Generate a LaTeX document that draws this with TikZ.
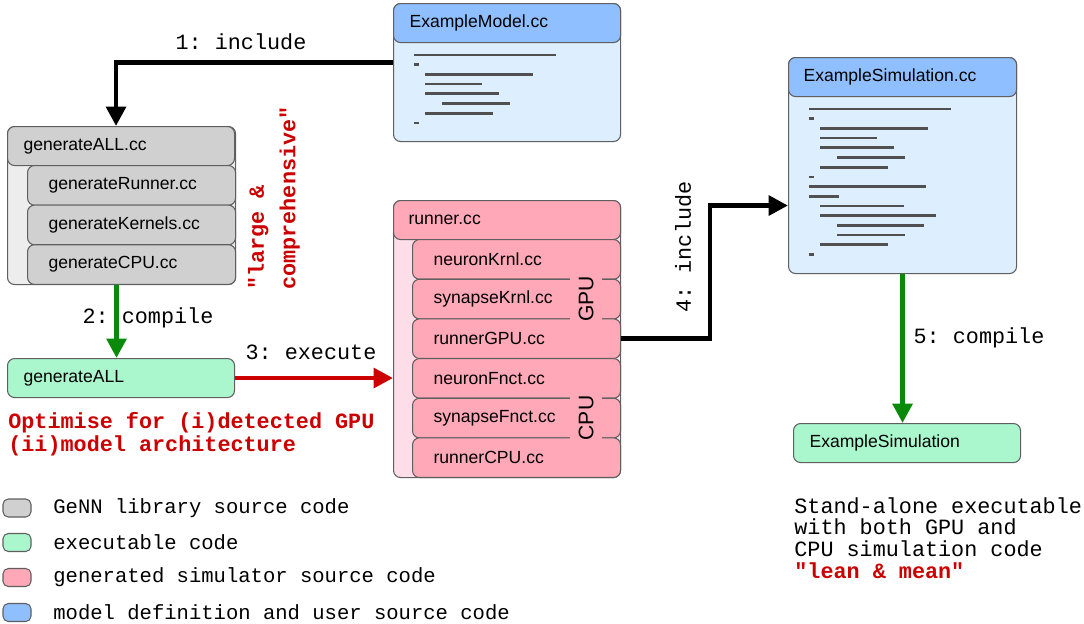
\documentclass[tikz,border=0pt]{standalone}
\usepackage{fontspec}
\setmainfont{Liberation Sans}
\setmonofont{Liberation Mono}
\usetikzlibrary{arrows.meta}
\newlength\pxu
\setlength\pxu{0.02cm}
\definecolor{edge}{HTML}{5F5F5F}
\definecolor{codegray}{HTML}{505050}
\definecolor{blhead}{HTML}{8FBFFF}
\definecolor{blbody}{HTML}{DDEEFF}
\definecolor{grbox}{HTML}{D0D0D0}
\definecolor{grstrip}{HTML}{EDEDED}
\definecolor{pinkbox}{HTML}{FFA8B8}
\definecolor{pinkstrip}{HTML}{FDDDE8}
\definecolor{mint}{HTML}{AAF7CE}
\definecolor{darkred}{HTML}{CC0000}
\definecolor{darkgreen}{HTML}{0A8A0A}
\tikzset{
  body/.style={rectangle, draw=edge, line width=0.6pt, rounded corners=4pt,
    anchor=north west, inner sep=0pt},
  head/.style={body, align=left, text width=195\pxu, inner xsep=16\pxu,
    minimum height=39\pxu, font=\fontsize{10}{12}\selectfont},
  sub/.style={body, align=left, text width=166\pxu, inner xsep=21\pxu,
    minimum height=39.67\pxu, font=\fontsize{10}{12}\selectfont},
  side/.style={rotate=90, fill=pinkbox, inner xsep=1pt, inner ysep=5pt,
    font=\fontsize{12}{14}\selectfont},
  key/.style={rectangle, draw=edge, line width=0.6pt, rounded corners=3pt,
    minimum width=28\pxu, minimum height=18\pxu, inner sep=0pt},
  legtxt/.style={anchor=west, inner sep=0pt, font=\fontsize{11.7}{13}\selectfont\ttfamily},
  lbl/.style={inner sep=1pt, font=\fontsize{12.4}{12.4}\selectfont\ttfamily},
  redtxt/.style={lbl, text=darkred, font=\fontsize{12.4}{13}\selectfont\ttfamily\bfseries},
  codeln/.style={draw=codegray, line width=1.5pt},
  blkarr/.style={draw=black, line width=2.7pt, -{Triangle[length=11pt,width=11pt]}},
  grnarr/.style={blkarr, draw=darkgreen, fill=darkgreen},
  redarr/.style={blkarr, draw=darkred, fill=darkred}
}
\def\modelcode{21/142, 21/5, 32/108, 32/57, 32/74, 49/68, 32/68, 21/5}
\def\simcode{21/142, 21/5, 32/108, 32/57, 32/74, 49/68, 32/68, 21/5,
  21/117, 21/30, 32/84, 32/116, 49/87, 49/68, 32/68, 21/5}

\begin{document}
\begin{tikzpicture}[x=0.02cm, y=-0.02cm]
    \useasboundingbox (0,0) rectangle (1084,623);

    % model definition
    \node[body, fill=blbody, minimum width=227\pxu, minimum height=138\pxu] (mbody) at (393,3) {};
    \node[head, fill=blhead] (mhead) at (393,3) {ExampleModel.cc};
    \begin{scope}[shift={(mbody.north west)}]
      \foreach \o/\l [count=\i] in \modelcode
        \draw[codeln] (\o, 42.3+9.7*\i) -- ++(\l, 0);
    \end{scope}

    % GeNN library
    \node[body, fill=grstrip, minimum width=228\pxu, minimum height=158\pxu] (gall) at (7,126) {};
    \node[head, fill=grbox] (ghead) at (7,126) {generateALL.cc};
    \node[sub, fill=grbox] (grun) at (27,165) {generateRunner.cc};
    \node[sub, fill=grbox] (gker) at (27,204.6) {generateKernels.cc};
    \node[sub, fill=grbox] (gcpu) at (27,244.2) {generateCPU.cc};
    \node[head, fill=mint] (gexe) at (7,358) {generateALL};

    % generated runner
    \node[body, fill=pinkstrip, minimum width=227\pxu, minimum height=277\pxu] (rall) at (393,200) {};
    \node[head, fill=pinkbox, inner xsep=15\pxu, text width=197\pxu] (rhead) at (393,200) {runner.cc};
    \node[sub, fill=pinkbox] (rnk) at (412,239) {neuronKrnl.cc};
    \node[sub, fill=pinkbox] (rsk) at (412,278.7) {synapseKrnl.cc};
    \node[sub, fill=pinkbox] (rgpu) at (412,318.3) {runnerGPU.cc};
    \node[sub, fill=pinkbox] (rnf) at (412,358) {neuronFnct.cc};
    \node[sub, fill=pinkbox] (rsf) at (412,397.7) {synapseFnct.cc};
    \node[sub, fill=pinkbox] (rcpu) at (412,437.3) {runnerCPU.cc};
    \node[side] (lgpu) at (586,299) {GPU};
    \node[side] (lcpu) at (586,418) {CPU};

    % user simulation
    \node[body, fill=blbody, minimum width=228\pxu, minimum height=216\pxu] (sbody) at (788,57) {};
    \node[head, fill=blhead, inner xsep=15\pxu, text width=198\pxu] (shead) at (788,57) {ExampleSimulation.cc};
    \begin{scope}[shift={(sbody.north west)}]
      \foreach \o/\l [count=\i] in \simcode
        \draw[codeln] (\o, 42.3+9.7*\i) -- ++(\l, 0);
    \end{scope}
    \node[head, fill=mint] (sexe) at (793,423) {ExampleSimulation};

    % arrows
    \draw[blkarr] ([yshift=10\pxu]mbody.west) -| ([xshift=-5\pxu]ghead.north);
    \node[lbl] (l1) at (241,42) {1: include};
    \draw[grnarr] ([xshift=-5\pxu]gall.south) -- ([xshift=-5\pxu]gall.south |- gexe.north);
    \node[lbl] (l2) at (148,318) {2: compile};
    \draw[redarr] (gexe.east) -- (rall.west |- gexe.east);
    \node[lbl] (l3) at (311,352) {3: execute};
    \draw[blkarr] (rgpu.east) -- ++(89,0) |- ([yshift=-40\pxu]sbody.west);
    \node[lbl, rotate=90] (l4) at (683,247) {4: include};
    \draw[grnarr] (sbody.south) -- (sbody.south |- sexe.north);
    \node[lbl] (l5) at (979,338) {5: compile};

    % remarks
    \node[redtxt, rotate=90, align=left, font=\fontsize{12.4}{18}\selectfont\ttfamily\bfseries] (big) at (274,198) {"large \&\\comprehensive"};
    \node[redtxt, anchor=west, align=left, inner sep=0pt] (opt) at (8,434.5) {Optimise for (i)detected GPU\\(ii)model architecture};
    \node[lbl, anchor=west, align=left, inner sep=0pt] (note) at (794,538) {Stand-alone executable\\with both GPU and\\CPU simulation code\\{\color{darkred}\bfseries "lean \& mean"}};

    % legend
    \node[key, fill=grbox] (kgr) at (17,508) {};
    \node[key, fill=mint] (kex) at (17,542.5) {};
    \node[key, fill=pinkbox] (kgen) at (17,577.5) {};
    \node[key, fill=blhead] (kusr) at (17,612.5) {};
    \node[legtxt] (tgr) at (53,508) {GeNN library source code};
    \node[legtxt] (tex) at (53,542.5) {executable code};
    \node[legtxt] (tgen) at (53,577.5) {generated simulator source code};
    \node[legtxt] (tusr) at (53,612.5) {model definition and user source code};
\end{tikzpicture}
\end{document}
